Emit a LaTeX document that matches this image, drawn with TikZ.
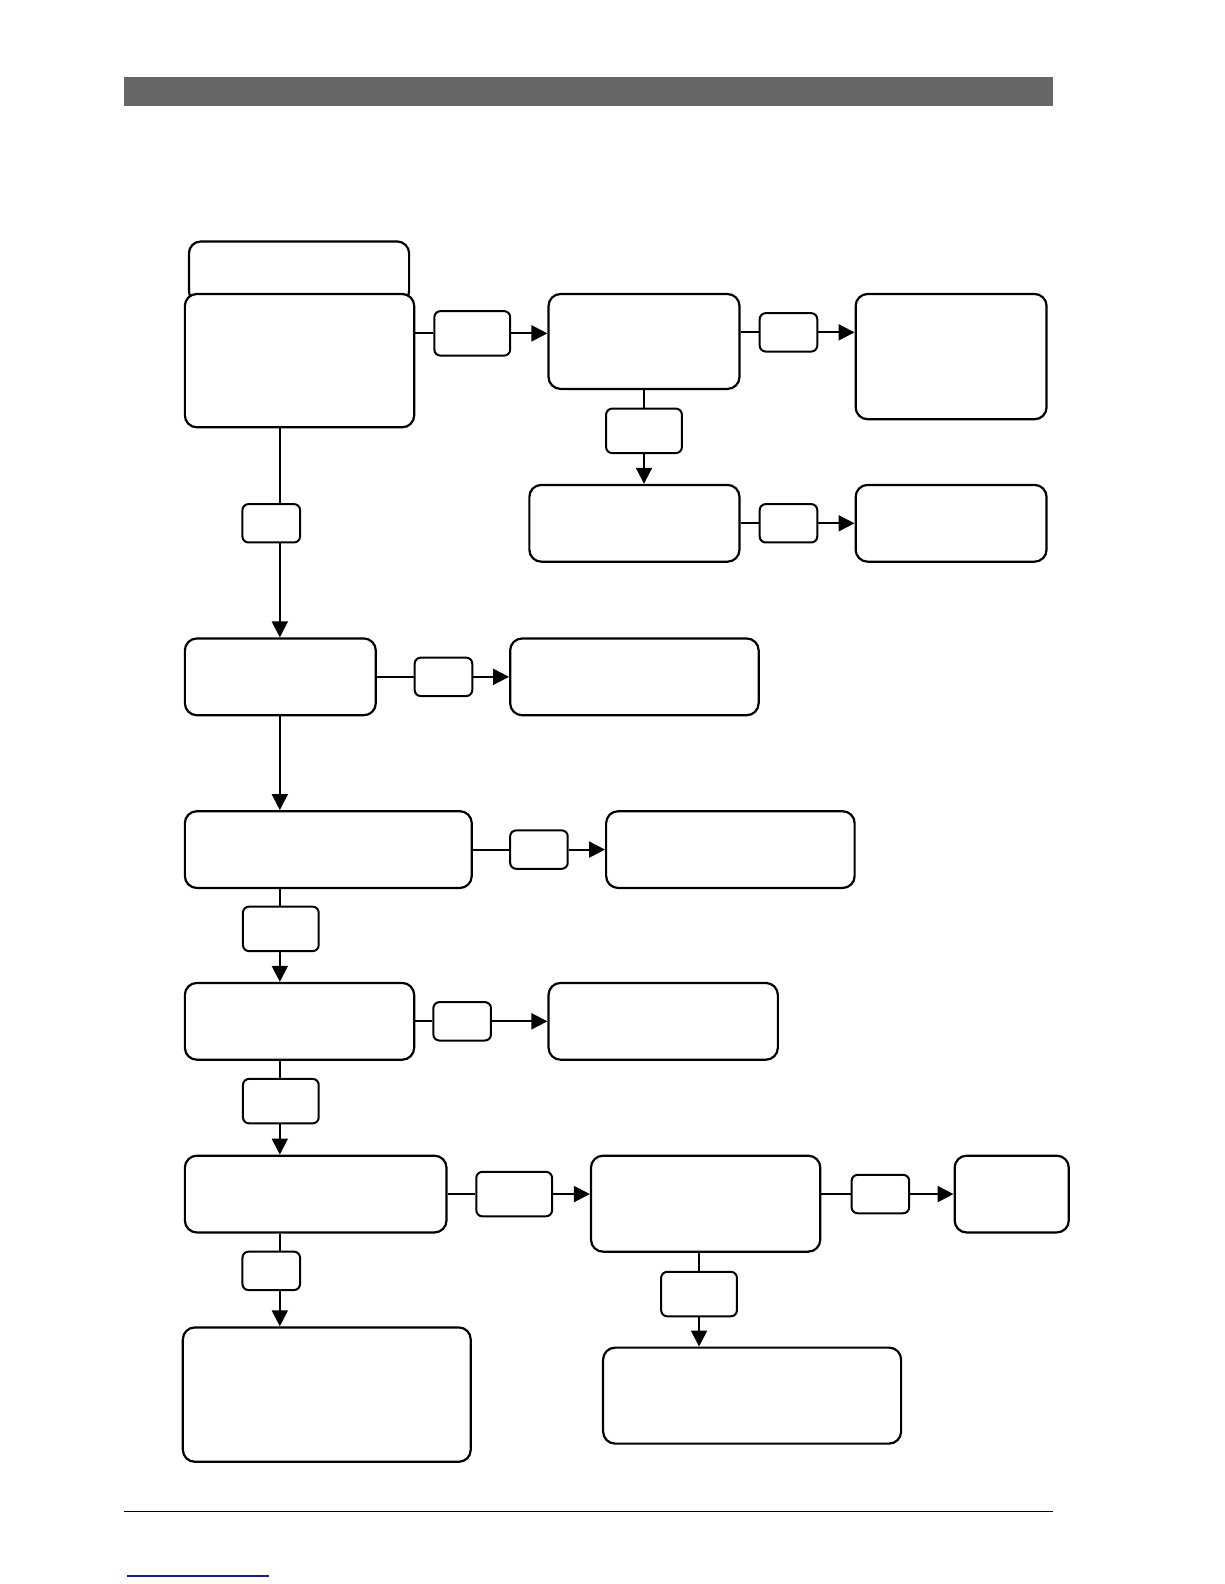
\documentclass[tikz,border=0pt]{standalone}
\usepackage{tikz}
\usetikzlibrary{arrows.meta,positioning}
\definecolor{BarGrey}{HTML}{666666}
\definecolor{LinkBlue}{HTML}{1C1C8E}

\begin{document}
\begin{tikzpicture}[
  x=0.505pt, y=-0.505pt,
  >={Triangle[length=8pt,width=8pt]},
  % process box
  pbox/.style={draw, fill=white, line width=1.1pt, rounded corners=6pt,
               inner sep=0pt},
  % wide condition tag
  tagW/.style={draw, fill=white, line width=1pt, rounded corners=3pt,
               inner sep=0pt, minimum width=75*\u, minimum height=44*\u},
  % narrow condition tag
  tagN/.style={draw, fill=white, line width=1pt, rounded corners=3pt,
               inner sep=0pt, minimum width=57*\u, minimum height=38*\u},
  link/.style={line width=1pt},
]
\def\u{0.505pt}
\useasboundingbox (0,0) rectangle (1212,1568);

%% ── Page header bar and footer rule ──────────────────────────────────────
\fill[BarGrey] (123,76) rectangle (1042,105);
\draw[line width=0.6pt] (123,1496) -- (1042,1496);
\draw[LinkBlue, line width=0.8pt] (126,1560) -- (266,1560);

%% ── Trunk x-positions ────────────────────────────────────────────────────
\coordinate (trunk) at (277,0);

%% ── Process boxes ────────────────────────────────────────────────────────
\node[pbox, minimum width=218*\u, minimum height=61*\u] (Aback) at (296,269.5) {};
\node[pbox, minimum width=227*\u, minimum height=132*\u] (A) at (296.5,357) {};
\node[pbox, minimum width=189*\u, minimum height=94*\u]  (B) at (637.5,338) {};
\node[pbox, minimum width=189*\u, minimum height=124*\u] (C) at (941.5,353) {};
\node[pbox, minimum width=208*\u, minimum height=76*\u]  (D) at (628,518) {};
\node[pbox, minimum width=189*\u, minimum height=76*\u]  (E) at (941.5,518) {};
\node[pbox, minimum width=189*\u, minimum height=76*\u]  (F) at (277.5,670) {};
\node[pbox, minimum width=246*\u, minimum height=76*\u]  (G) at (628,670) {};
\node[pbox, minimum width=284*\u, minimum height=76*\u]  (H) at (325,841) {};
\node[pbox, minimum width=246*\u, minimum height=76*\u]  (I) at (723,841) {};
\node[pbox, minimum width=227*\u, minimum height=76*\u]  (J) at (296.5,1011) {};
\node[pbox, minimum width=227*\u, minimum height=76*\u]  (K) at (656.5,1011) {};
\node[pbox, minimum width=259*\u, minimum height=76*\u]  (M) at (312.5,1182) {};
\node[pbox, minimum width=227*\u, minimum height=95*\u]  (N) at (698.5,1191.5) {};
\node[pbox, minimum width=113*\u, minimum height=76*\u]  (O) at (1001.5,1182) {};
\node[pbox, minimum width=295*\u, minimum height=95*\u]  (P) at (744.5,1381.5) {};
\node[pbox, minimum width=285*\u, minimum height=133*\u] (Q) at (323.5,1380.5) {};

%% ── Condition tags ───────────────────────────────────────────────────────
\node[tagW] (t1)  at (467.5,330) {};
\node[tagN] (t2)  at (780.5,329) {};
\node[tagW] (t3)  at (637.5,426.5) {};
\node[tagN] (t4)  at (780.5,518) {};
\node[tagN] (t5)  at (268.5,518) {};
\node[tagN] (t6)  at (439,670) {};
\node[tagN] (t7)  at (533.5,841) {};
\node[tagW] (t8)  at (278,919.5) {};
\node[tagN] (t9)  at (457.5,1011) {};
\node[tagW] (t10) at (278,1090) {};
\node[tagW] (t11) at (509,1182) {};
\node[tagN] (t12) at (871.5,1182) {};
\node[tagW] (t13) at (692,1281) {};
\node[tagN] (t14) at (268.5,1258) {};

%% ── Horizontal branches ──────────────────────────────────────────────────
\draw[link] (A.east |- t1.west) -- (t1.west);
\draw[link,->] (t1.east) -- (t1.east -| B.west);
\draw[link] (B.east |- t2.west) -- (t2.west);
\draw[link,->] (t2.east) -- (t2.east -| C.west);
\draw[link] (D.east |- t4.west) -- (t4.west);
\draw[link,->] (t4.east) -- (t4.east -| E.west);
\draw[link] (F.east |- t6.west) -- (t6.west);
\draw[link,->] (t6.east) -- (t6.east -| G.west);
\draw[link] (H.east |- t7.west) -- (t7.west);
\draw[link,->] (t7.east) -- (t7.east -| I.west);
\draw[link] (J.east |- t9.west) -- (t9.west);
\draw[link,->] (t9.east) -- (t9.east -| K.west);
\draw[link] (M.east |- t11.west) -- (t11.west);
\draw[link,->] (t11.east) -- (t11.east -| N.west);
\draw[link] (N.east |- t12.west) -- (t12.west);
\draw[link,->] (t12.east) -- (t12.east -| O.west);

%% ── Vertical branches ────────────────────────────────────────────────────
\draw[link] (B.south -| t3.north) -- (t3.north);
\draw[link,->] (t3.south) -- (t3.south |- D.north);
\draw[link] (N.south -| t13.north) -- (t13.north);
\draw[link,->] (t13.south) -- (t13.south |- P.north);

%% ── Main trunk ───────────────────────────────────────────────────────────
\draw[link] (A.south -| trunk) -- (t5.north -| trunk);
\draw[link,->] (t5.south -| trunk) -- (F.north -| trunk);
\draw[link,->] (F.south -| trunk) -- (H.north -| trunk);
\draw[link] (H.south -| trunk) -- (t8.north -| trunk);
\draw[link,->] (t8.south -| trunk) -- (J.north -| trunk);
\draw[link] (J.south -| trunk) -- (t10.north -| trunk);
\draw[link,->] (t10.south -| trunk) -- (M.north -| trunk);
\draw[link] (M.south -| trunk) -- (t14.north -| trunk);
\draw[link,->] (t14.south -| trunk) -- (Q.north -| trunk);

\end{tikzpicture}
\end{document}
